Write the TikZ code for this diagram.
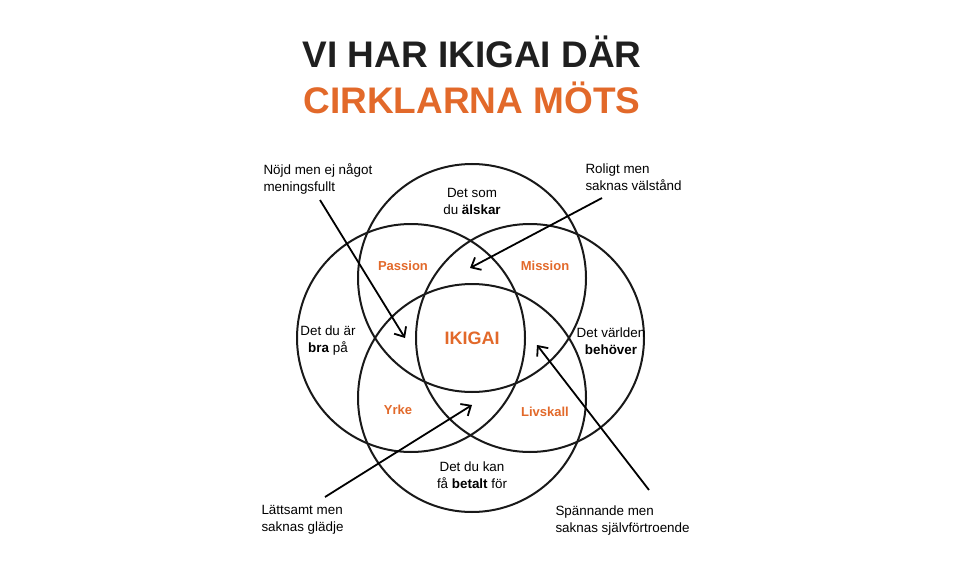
\documentclass[tikz,border=0pt]{standalone}
\usepackage{fontspec}
\setmainfont{Liberation Sans}
\usetikzlibrary{arrows.meta}
\definecolor{ikorange}{HTML}{E2692A}
\tikzset{
  ring/.style={draw=black!90,line width=2pt},
  zone/.style={text=ikorange,font=\bfseries\fontsize{13}{15}\selectfont},
  circlelabel/.style={align=center,font=\fontsize{13.4}{17}\selectfont},
  note/.style={align=left,anchor=north west,font=\fontsize{13.4}{17}\selectfont},
  pointer/.style={line width=1.8pt,-{Straight Barb[length=8pt,width=14pt]}}
}
\begin{document}
\begin{tikzpicture}[x=1pt,y=-1pt]
      \useasboundingbox (0,0) rectangle (960,572);
      \node[font=\bfseries\fontsize{37}{40}\selectfont,text=black!88] (title) at (472,52) {VI HAR IKIGAI DÄR};
      \node[font=\bfseries\fontsize{37}{40}\selectfont,text=ikorange] (subtitle) at (472,98) {CIRKLARNA MÖTS};

      \draw[ring] (472,278) circle (114);
      \draw[ring] (411,338) circle (114);
      \draw[ring] (530,338) circle (114);
      \draw[ring] (472,398) circle (114);

      \node[circlelabel] (love) at (472,201) {Det som\\du \textbf{älskar}};
      \node[circlelabel] (good) at (328,341) {Det du är\\\textbf{bra} på};
      \node[circlelabel] (need) at (611,341) {Det världen\\\textbf{behöver}};
      \node[circlelabel] (paid) at (472,475) {Det du kan\\få \textbf{betalt} för};

      \node[zone] (passion) at (403,266) {Passion};
      \node[zone] (mission) at (545,266) {Mission};
      \node[zone] (yrke) at (398,410) {Yrke};
      \node[zone] (livskall) at (545,412) {Livskall};
      \node[zone,font=\bfseries\fontsize{18}{20}\selectfont] (ikigai) at (472,338) {IKIGAI};

      \node[note] (n1) at (260,160) {Nöjd men ej något\\meningsfullt};
      \node[note] (n2) at (582,160) {Roligt men\\saknas välstånd};
      \node[note] (n3) at (258,502) {Lättsamt men\\saknas glädje};
      \node[note] (n4) at (552,502) {Spännande men\\saknas självförtroende};

      \coordinate (t1) at (405,338);
      \coordinate (t2) at (470,268);
      \coordinate (t3) at (472,405);
      \coordinate (t4) at (537,345);
      \draw[pointer] (320,200) -- (t1);
      \draw[pointer] (602,198) -- (t2);
      \draw[pointer] (325,497) -- (t3);
      \draw[pointer] (649,490) -- (t4);
\end{tikzpicture}
\end{document}
